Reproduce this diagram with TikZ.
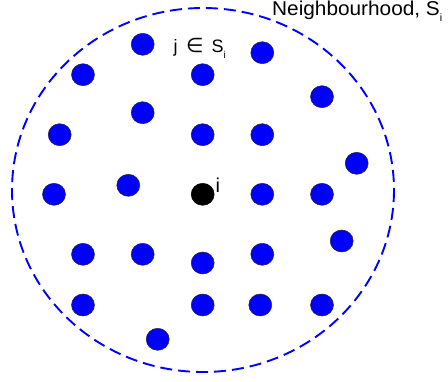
\documentclass[tikz,border=0pt]{standalone}
\usepackage{fontspec}
\usepackage{graphicx}
\setmainfont{Liberation Sans}
\newfontfamily\dejavu{DejaVu Sans}
\usetikzlibrary{shapes.geometric}
\definecolor{dotblue}{RGB}{0,0,255}
\definecolor{rimgray}{RGB}{40,40,40}
\tikzset{
  dot/.style={ellipse, minimum width=23pt, minimum height=22pt, inner sep=0pt,
    fill=dotblue, draw=rimgray, line width=0.5pt},
  centredot/.style={dot, fill=black, draw=black},
  hood/.style={draw=dotblue, line width=1.9pt, dash pattern=on 12pt off 6pt},
  lbl/.style={inner sep=0pt, anchor=base west}
}
\newcommand{\subi}[2]{\raisebox{-#2}{\fontsize{#1}{#1}\selectfont i}}
\begin{document}
\begin{tikzpicture}[x=1pt,y=-1pt]
\useasboundingbox (0,0) rectangle (448,381);
\draw[hood] (203,190) ellipse [x radius=191, y radius=182];
\node[dot] (d1) at (142.7,44.3) {};
\node[dot] (d2) at (262.3,52.7) {};
\node[dot] (d3) at (83,74.7) {};
\node[dot] (d4) at (202.7,74.7) {};
\node[dot] (d5) at (322,96.7) {};
\node[dot] (d6) at (142.7,112.7) {};
\node[dot] (d7) at (59.7,134.7) {};
\node[dot] (d8) at (202.7,134.7) {};
\node[dot] (d9) at (262.3,134.7) {};
\node[dot] (d10) at (356.7,163.3) {};
\node[dot] (d11) at (54,194.3) {};
\node[dot] (d12) at (128.3,185.3) {};
\node[centredot] (c) at (202.7,194.3) {};
\node[dot] (d14) at (262.3,194.3) {};
\node[dot] (d15) at (322,194.3) {};
\node[dot] (d16) at (341.7,241) {};
\node[dot] (d17) at (83,254.3) {};
\node[dot] (d18) at (142.7,254.3) {};
\node[dot] (d19) at (202.7,263) {};
\node[dot] (d20) at (262.3,254.3) {};
\node[dot] (d21) at (83,305) {};
\node[dot] (d22) at (202.7,305) {};
\node[dot] (d23) at (260.3,305) {};
\node[dot] (d24) at (322,305) {};
\node[dot] (d25) at (157.7,339.3) {};
\node[lbl, font=\fontsize{20}{24}\selectfont] (nb) at (272,15.5) {\scalebox{1.04}[1]{Neighbourhood, S}\subi{10.7}{6pt}};
\node[lbl, font=\fontsize{18}{20}\selectfont] (jl) at (173.5,52.3) {j\hspace{8.5pt}{\dejavu\fontsize{20}{22}\selectfont ∈}\hspace{8pt}S\subi{10}{6.5pt}};
\node[lbl, font=\fontsize{20}{24}\selectfont] (il) at (215.5,192.3) {i};
\end{tikzpicture}
\end{document}
